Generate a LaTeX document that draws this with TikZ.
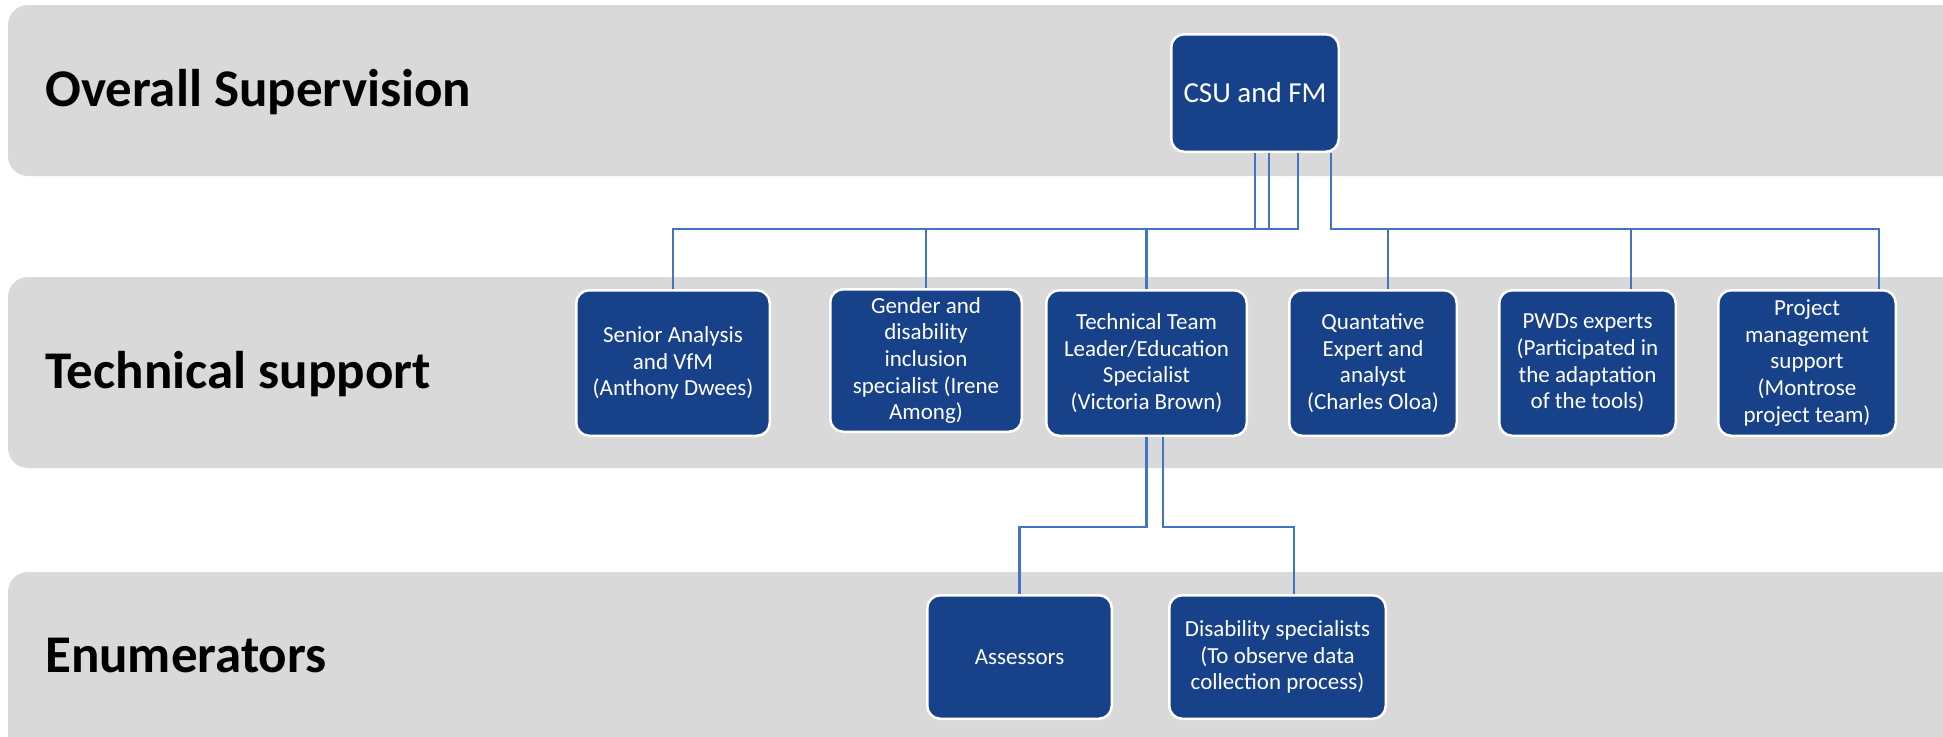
\documentclass[tikz,border=0pt]{standalone}
\usepackage{fontspec}
\setmainfont{Carlito}
\definecolor{bandgray}{HTML}{D9D9D9}
\definecolor{unitblue}{HTML}{174189}
\definecolor{linkblue}{HTML}{4472C4}
\begin{document}
\begin{tikzpicture}[x=1pt,y=-1pt,
   band/.style={fill=bandgray,rounded corners=20pt},
   head/.style={anchor=base west,inner sep=0pt,font=\fontsize{53}{60}\selectfont\bfseries},
   unit/.style={draw=white,line width=2.5pt,fill=unitblue,rounded corners=13pt,text=white,
     align=center,inner sep=0pt,font=\fontsize{23}{26.7}\selectfont},
   row/.style={unit,minimum height=145.5pt},
   link/.style={draw=linkblue,line width=2.2pt}]
   \clip (0,0) rectangle (1943,736);
   % level bands
   \fill[band] (8,5) rectangle (1990,176);
   \fill[band] (8,277) rectangle (1990,468);
   \fill[band] (8,572) rectangle (1990,790);
   \node[head] (hsup) at (45,106) {Overall Supervision};
   \node[head] (htech) at (45,388) {Technical support};
   \node[head] (henum) at (45,672) {Enumerators};
   % units
   \node[unit,minimum width=167.5pt,minimum height=117.5pt,font=\fontsize{29}{34}\selectfont] (csu) at (1255,93) {CSU and FM};
   \node[row,minimum width=193.5pt] (senior) at (673,363) {Senior Analysis\\and VfM\\(Anthony Dwees)};
   \node[row,minimum width=191.5pt,minimum height=142.5pt] (gender) at (926,360.5) {Gender and\\disability\\inclusion\\specialist (Irene\\Among)};
   \node[row,minimum width=200.5pt] (tech) at (1146.5,363) {Technical Team\\Leader/Education\\Specialist\\(Victoria Brown)};
   \node[row,minimum width=167.5pt] (quant) at (1373,363) {Quantative\\Expert and\\analyst\\(Charles Oloa)};
   \node[row,minimum width=176.5pt] (pwds) at (1587.5,363) {PWDs experts\\(Participated in\\the adaptation\\of the tools)};
   \node[row,minimum width=177.5pt] (proj) at (1807,363) {Project\\management\\support\\(Montrose\\project team)};
   \node[unit,minimum width=184.5pt,minimum height=123.5pt] (assess) at (1019.5,657) {Assessors};
   \node[unit,minimum width=216.5pt,minimum height=123.5pt] (disab) at (1277.5,657) {Disability specialists\\(To observe data\\collection process)};
   % connectors
   \foreach \src/\dst/\off in {0/senior/0,14/gender/0,43/tech/0,76/quant/15,76/pwds/43.5,76/proj/72}
     \draw[link] ([xshift=\src pt]csu.south) -- ++(0,76) -| ([xshift=\off pt]\dst.north);
   \draw[link] (tech.south) -- ++(0,90) -| (assess.north);
   \draw[link] ([xshift=16.5pt]tech.south) -- ++(0,90) -| ([xshift=16.5pt]disab.north);
\end{tikzpicture}
\end{document}
